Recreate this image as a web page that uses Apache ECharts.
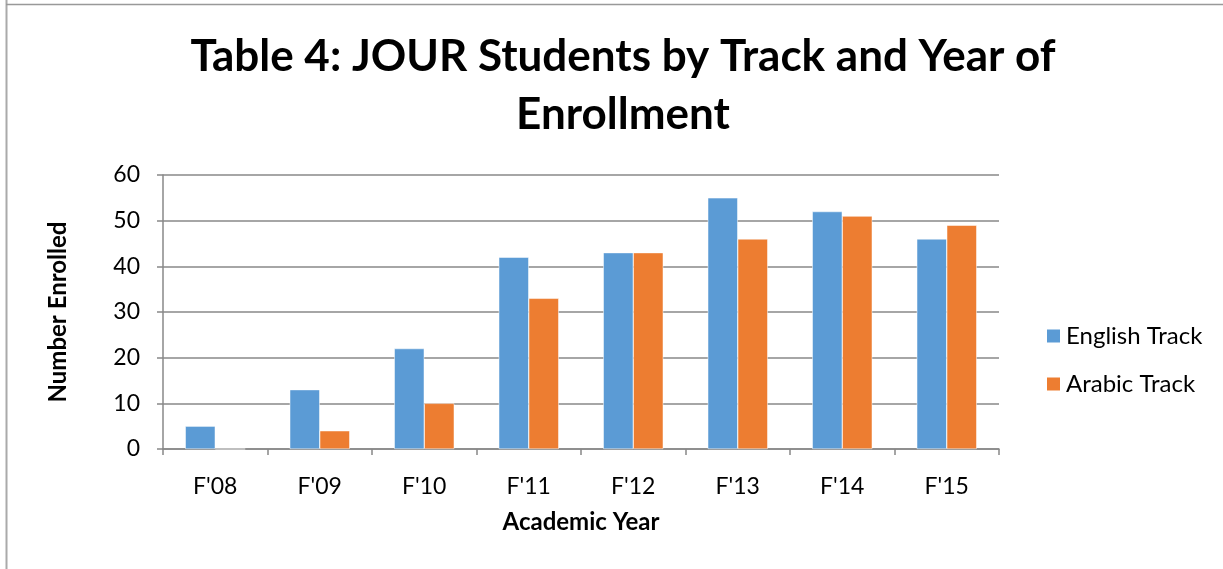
<!DOCTYPE html>
<html><head><meta charset="utf-8">
<script src="https://cdn.jsdelivr.net/npm/echarts@6/dist/echarts.min.js"></script>
<style>html,body{margin:0;padding:0;background:#fff}#c{width:1223px;height:569px}</style>
</head><body><div id="c"></div>
<script>
const categories = ["F'08","F'09","F'10","F'11","F'12","F'13","F'14","F'15"];
const englishTrack = [5,13,22,42,43,55,52,46];
const arabicTrack = [0,4,10,33,43,46,51,49];
const seriesNames = ["English Track","Arabic Track"];
const yTicks = {min:0,max:60,interval:10};

const chart = echarts.init(document.getElementById('c'));
const font = 'Lato, "Open Sans", sans-serif';
chart.setOption({
  backgroundColor:'#fff',
  animation:false,
  graphic:[
    {type:'line',shape:{x1:6.5,y1:0,x2:6.5,y2:569},style:{stroke:'#aaa',lineWidth:2}},
    {type:'line',shape:{x1:6,y1:4.5,x2:1223,y2:4.5},style:{stroke:'#999',lineWidth:1.5}}
  ],
  title:{
    text:'Table 4: JOUR Students by Track and Year of\nEnrollment',
    left:618,top:23,textAlign:'center',
    textStyle:{fontFamily:font,fontWeight:'bold',fontSize:44,lineHeight:58,color:'#000'}
  },
  legend:{
    orient:'vertical',left:1040,top:319,itemGap:24,itemWidth:15,itemHeight:15,
    icon:'rect',
    textStyle:{fontFamily:font,fontSize:24,color:'#000'},
    data:seriesNames
  },
  grid:{left:163,right:224,top:175,bottom:120,containLabel:false},
  xAxis:{
    type:'category',data:categories,
    axisLine:{lineStyle:{color:'#888',width:1.5}},
    axisTick:{show:true,length:6,lineStyle:{color:'#888',width:1.5}},
    axisLabel:{fontFamily:font,fontSize:23,color:'#000',margin:26},
    name:'Academic Year',nameLocation:'middle',nameGap:61,
    nameTextStyle:{fontFamily:font,fontWeight:'bold',fontSize:24,color:'#000'}
  },
  yAxis:{
    type:'value',min:yTicks.min,max:yTicks.max,interval:yTicks.interval,
    axisLine:{show:true,lineStyle:{color:'#888',width:1.5}},
    axisTick:{show:true,length:6,lineStyle:{color:'#888',width:1.5}},
    splitLine:{lineStyle:{color:'#888',width:1.5}},
    axisLabel:{fontFamily:font,fontSize:23,color:'#000',margin:23},
    name:'Number Enrolled',nameLocation:'middle',nameGap:93,nameRotate:90,
    nameTextStyle:{fontFamily:font,fontWeight:'bold',fontSize:24,color:'#000'}
  },
  series:[
    {name:seriesNames[0],type:'bar',data:englishTrack,barWidth:30,barGap:'0%',
     itemStyle:{color:'#5B9BD5',borderColor:'#fff',borderWidth:0.5}},
    {name:seriesNames[1],type:'bar',data:arabicTrack,barWidth:30,barGap:'0%',
     itemStyle:{color:'#ED7D31',borderColor:'#fff',borderWidth:0.5}}
  ]
});
</script></body></html>
